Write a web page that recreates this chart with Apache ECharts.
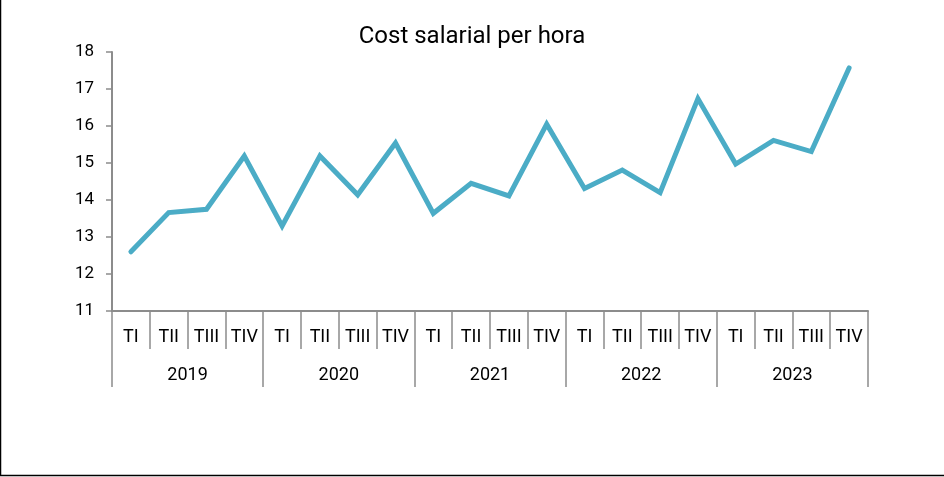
<!DOCTYPE html>
<html>
<head>
<meta charset="utf-8">
<script src="https://cdn.jsdelivr.net/npm/echarts@6/dist/echarts.min.js"></script>
<style>
  html, body { margin: 0; padding: 0; background: #fff; }
  #main { width: 944px; height: 477px; }
</style>
</head>
<body>
<div id="main"></div>
<script>
// dades llegides del gràfic
const quarters = ['TI', 'TII', 'TIII', 'TIV']
const years = ['2019', '2020', '2021', '2022', '2023']
const costHora = [12.60, 13.66, 13.75, 15.19, 13.30, 15.19, 14.14, 15.54, 13.64, 14.45,
                  14.11, 16.05, 14.31, 14.81, 14.20, 16.74, 14.97, 15.61, 15.31, 17.57]
const yTicks = { min: 11, max: 18, interval: 1 }

const qLabels = []
years.forEach(() => { quarters.forEach(q => qLabels.push(q)) })

const axisGrey = '#8c8c8c'
const font = 'Roboto, "Noto Sans", sans-serif'

const myChart = echarts.init(document.getElementById('main'))
myChart.setOption({
  animation: false,
  title: {
    text: 'Cost salarial per hora',
    left: 'center',
    top: 20,
    textStyle: { fontFamily: font, fontSize: 24, fontWeight: 'normal', color: '#000' }
  },
  grid: { left: 112, right: 76, top: 52, bottom: 166 },
  xAxis: [
    {
      type: 'category',
      data: qLabels,
      boundaryGap: true,
      axisLine: { show: true, lineStyle: { color: axisGrey, width: 2 } },
      axisTick: { show: true, alignWithLabel: false, interval: 0, length: 38, lineStyle: { color: axisGrey, width: 1.5 } },
      axisLabel: { interval: 0, margin: 17, fontFamily: font, fontSize: 18, color: '#000' }
    },
    {
      type: 'category',
      data: years,
      position: 'bottom',
      boundaryGap: true,
      axisLine: { show: false },
      axisTick: { show: true, interval: 0, length: 76, lineStyle: { color: axisGrey, width: 1.5 } },
      axisLabel: { interval: 0, margin: 55, fontFamily: font, fontSize: 18, color: '#000' }
    }
  ],
  yAxis: {
    type: 'value',
    min: yTicks.min,
    max: yTicks.max,
    interval: yTicks.interval,
    splitLine: { show: false },
    axisLine: { show: true, lineStyle: { color: axisGrey, width: 2 } },
    axisTick: { show: true, length: 6, lineStyle: { color: axisGrey, width: 1.5 } },
    axisLabel: { margin: 18, fontFamily: font, fontSize: 17, color: '#000' }
  },
  series: [{
    type: 'line',
    xAxisIndex: 0,
    data: costHora,
    showSymbol: false,
    lineStyle: { color: '#4bacc6', width: 5, cap: 'round', join: 'miter' }
  }],
  graphic: [
    { type: 'line', shape: { x1: 0.5, y1: 0, x2: 0.5, y2: 476 }, style: { stroke: '#000', lineWidth: 1.5 } },
    { type: 'line', shape: { x1: 0, y1: 475.5, x2: 944, y2: 475.5 }, style: { stroke: '#000', lineWidth: 1.5 } }
  ]
})
</script>
</body>
</html>
